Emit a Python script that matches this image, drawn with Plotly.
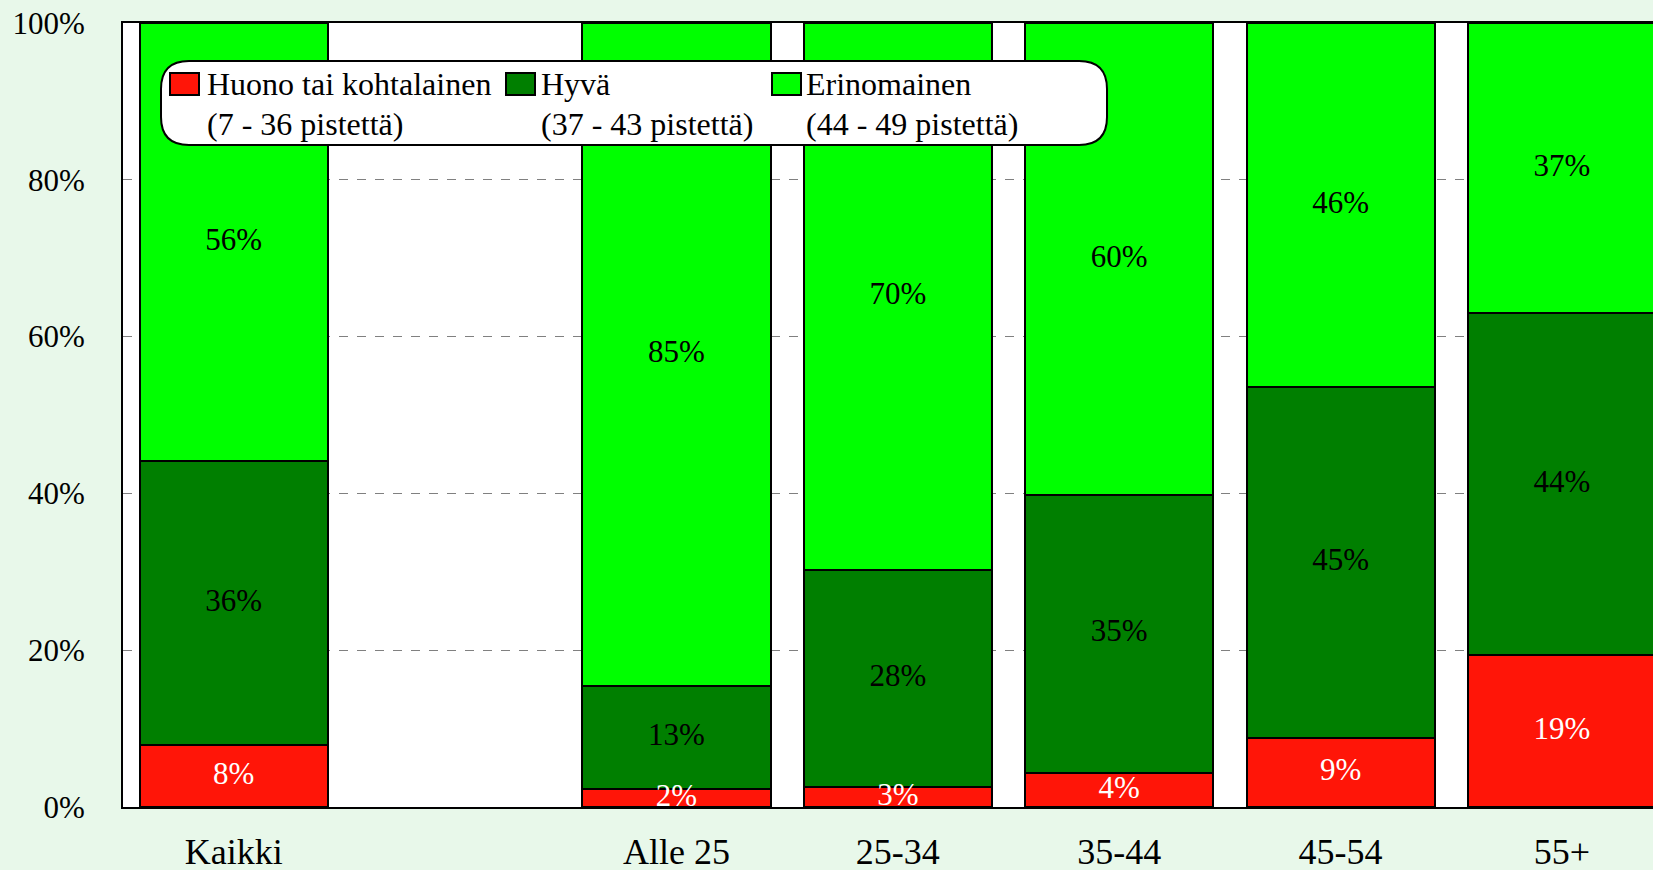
import plotly.graph_objects as go

# ---------------- data ----------------
categories = ["Kaikki", "Alle 25", "25-34", "35-44", "45-54", "55+"]
axis_order = ["Kaikki", " ", "Alle 25", "25-34", "35-44", "45-54", "55+"]  # blank slot after "Kaikki"

huono = [7.9, 2.3, 2.6, 4.4, 8.8, 19.4]
hyva = [36.2, 13.1, 27.6, 35.4, 44.8, 43.6]
erinomainen = [55.9, 84.6, 69.8, 60.2, 46.4, 37.0]

series_names = ["Huono tai kohtalainen", "Hyvä", "Erinomainen"]
series_ranges = ["(7 - 36 pistettä)", "(37 - 43 pistettä)", "(44 - 49 pistettä)"]
series_values = [huono, hyva, erinomainen]
series_colors = ["#FF1508", "#007F00", "#00FF00"]
label_colors = ["white", "black", "black"]

y_tickvals = [0, 20, 40, 60, 80, 100]
y_ticktext = ["0%", "20%", "40%", "60%", "80%", "100%"]

FONT = "Liberation Serif"
W, H = 1653, 870
ML, MR, MT, MB = 123, 0, 23, 63
PW, PH = W - ML - MR, H - MT - MB

fig = go.Figure()

# stacked bars
for name, vals, col in zip(series_names, series_values, series_colors):
    fig.add_trace(go.Bar(
        x=categories, y=vals, name=name, width=0.85,
        marker=dict(color=col, line=dict(color="black", width=2)),
        showlegend=False, hoverinfo="skip",
    ))

# segment labels
base = [0.0] * len(categories)
for vals, tcol in zip(series_values, label_colors):
    mids = [b + v / 2 for b, v in zip(base, vals)]
    fig.add_trace(go.Scatter(
        x=categories, y=mids, mode="text",
        text=[f"{round(v)}%" for v in vals],
        textposition="middle center",
        textfont=dict(family=FONT, size=31, color=tcol),
        cliponaxis=True, showlegend=False, hoverinfo="skip",
    ))
    base = [b + v for b, v in zip(base, vals)]


def px(x):
    return (x - ML) / PW


def py(y):
    return (MT + PH - y) / PH


# custom rounded legend box
x0, x1, y0, y1, r = 161, 1107, 61, 145, 28
pts = [
    ("M", x0 + r, y0), ("L", x1 - r, y0), ("Q", x1, y0, x1, y0 + r),
    ("L", x1, y1 - r), ("Q", x1, y1, x1 - r, y1), ("L", x0 + r, y1),
    ("Q", x0, y1, x0, y1 - r), ("L", x0, y0 + r), ("Q", x0, y0, x0 + r, y0),
]
path = ""
for p in pts:
    cmd = p[0]
    coords = p[1:]
    s = []
    for i in range(0, len(coords), 2):
        s.append(f"{px(coords[i]):.5f},{py(coords[i+1]):.5f}")
    path += cmd + " ".join(s) + " "
path += "Z"
fig.add_shape(type="path", path=path, xref="paper", yref="paper",
              fillcolor="white", line=dict(color="black", width=2), layer="above")

sym_x = [170, 506, 772]
txt_x = [205, 539, 804]
for name, rng, col, sx, tx in zip(series_names, series_ranges, series_colors, sym_x, txt_x):
    fig.add_shape(type="rect", xref="paper", yref="paper",
                  x0=px(sx), x1=px(sx + 29), y0=py(73), y1=py(95),
                  fillcolor=col, line=dict(color="black", width=2), layer="above")
    fig.add_annotation(x=px(tx), y=py(84), xref="paper", yref="paper",
                       text=name, showarrow=False, xanchor="left", yanchor="middle",
                       font=dict(family=FONT, size=32, color="black"))
    fig.add_annotation(x=px(tx), y=py(124), xref="paper", yref="paper",
                       text=rng, showarrow=False, xanchor="left", yanchor="middle",
                       font=dict(family=FONT, size=32, color="black"))

fig.update_layout(
    width=W, height=H,
    margin=dict(l=ML, r=MR, t=MT, b=MB, autoexpand=False),
    barmode="stack", bargap=0.15,
    paper_bgcolor="#E8F8EA", plot_bgcolor="white",
    font=dict(family=FONT, color="black"),
    xaxis=dict(
        type="category", categoryorder="array", categoryarray=axis_order,
        range=[-0.5, 6.411], showgrid=False, zeroline=False, automargin=False,
        showline=True, linecolor="black", linewidth=2, mirror=True,
        ticks="outside", ticklen=12, tickcolor="rgba(0,0,0,0)",
        tickfont=dict(family=FONT, size=36, color="black"),
    ),
    yaxis=dict(
        range=[0, 100], tickvals=y_tickvals, ticktext=y_ticktext, automargin=False,
        showgrid=True, gridcolor="#808080", gridwidth=1, griddash="dash",
        zeroline=False, showline=True, linecolor="black", linewidth=2, mirror=False,
        ticks="outside", ticklen=30, tickcolor="rgba(0,0,0,0)",
        tickfont=dict(family=FONT, size=31, color="black"),
    ),
)

fig.write_html("out.html", config={"displayModeBar": False},
               post_script="document.body.style.margin='0';document.body.style.background='#E8F8EA';")
